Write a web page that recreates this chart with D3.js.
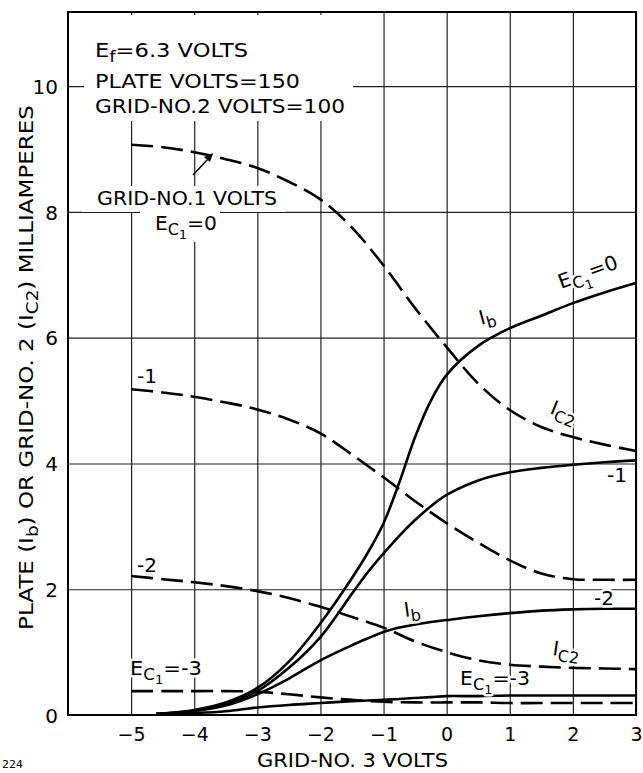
<!DOCTYPE html>
<html><head><meta charset="utf-8">
<script src="https://cdn.jsdelivr.net/npm/d3@7"></script>
<style>
body{margin:0;background:#fff}
text{font-family:"DejaVu Sans",sans-serif;fill:#000}
</style>
</head><body>
<svg id="c" width="643" height="773"></svg>
<script>
// ---- data ----
const xTicks = [-5,-4,-3,-2,-1,0,1,2,3];
const yTicks = [0,2,4,6,8,10];
const yGrid = [2,4,6,8,10];

// Plate current Ib vs grid-3 volts (solid)
const xIb = [-4.6,-4.3,-4,-3.5,-3,-2.5,-2,-1.5,-1.25,-1,-0.75,-0.5,-0.25,0,0.5,1,1.5,2,2.5,3];
const ibEc0  = [0.02,0.04,0.08,0.2,0.43,0.85,1.46,2.18,2.58,3.05,3.7,4.42,5.0,5.41,5.87,6.15,6.35,6.55,6.72,6.87];
const ibEc1  = [0.02,0.04,0.07,0.18,0.38,0.75,1.24,1.93,2.27,2.57,2.85,3.1,3.32,3.5,3.73,3.86,3.93,3.98,4.02,4.05];
const ibEc2  = [0.02,0.03,0.06,0.15,0.33,0.58,0.87,1.11,1.22,1.32,1.39,1.44,1.48,1.51,1.57,1.62,1.66,1.68,1.69,1.69];
const ibEc3  = [0.01,0.02,0.03,0.06,0.12,0.16,0.19,0.22,0.23,0.24,0.255,0.27,0.285,0.3,0.3,0.31,0.31,0.31,0.31,0.31];

// Grid-2 current Ic2 (dashed)
const xIc2 = [-5,-4.5,-4,-3.5,-3,-2.5,-2,-1.5,-1,-0.5,0,0.5,1,1.5,2,2.5,3];
const ic2Ec0 = [9.07,9.03,8.95,8.84,8.7,8.48,8.2,7.75,7.15,6.47,5.85,5.27,4.85,4.58,4.42,4.3,4.2];
const ic2Ec1 = [5.18,5.13,5.06,4.97,4.86,4.7,4.48,4.14,3.78,3.4,3.05,2.74,2.46,2.25,2.16,2.15,2.15];
const ic2Ec2 = [2.21,2.16,2.11,2.05,1.97,1.86,1.72,1.56,1.39,1.17,1.0,0.87,0.8,0.77,0.75,0.74,0.73];
const ic2Ec3 = [0.38,0.38,0.38,0.38,0.37,0.33,0.28,0.24,0.21,0.2,0.2,0.2,0.19,0.19,0.19,0.19,0.19];

// ---- chart ----
const svg = d3.select("#c");
const L = 68, R = 636, T = 12, B = 715;
const x = d3.scaleLinear().domain([-6,3]).range([L,R]);
const y = d3.scaleLinear().domain([0,11.18]).range([B,T]);

// grid
const g = svg.append("g");
g.append("g").attr("transform",`translate(0,${B})`)
  .call(d3.axisBottom(x).tickValues(xTicks).tickSize(-(B-T)).tickFormat(""))
  .call(s=>s.select(".domain").remove())
  .call(s=>s.selectAll("line").attr("stroke","#222").attr("stroke-width",1.2));
g.append("g").attr("transform",`translate(${L},0)`)
  .call(d3.axisLeft(y).tickValues(yGrid).tickSize(-(R-L)).tickFormat(""))
  .call(s=>s.select(".domain").remove())
  .call(s=>s.selectAll("line").attr("stroke","#222").attr("stroke-width",1.2));

// masks behind lettering
const masks = [[84,15,269,106],[82,186,203,26],[140,212,80,30]];
masks.forEach(m=>svg.append("rect").attr("x",m[0]).attr("y",m[1]).attr("width",m[2]).attr("height",m[3]).attr("fill","#fff"));

// frame
svg.append("rect").attr("x",L).attr("y",T).attr("width",R-L).attr("height",B-T)
  .attr("fill","none").attr("stroke","#000").attr("stroke-width",2);

// tick labels
svg.append("g").attr("transform",`translate(${L-7},0)`)
  .call(d3.axisLeft(y).tickValues(yTicks).tickSize(0).tickFormat(d3.format("d")))
  .call(s=>s.select(".domain").remove())
  .call(s=>s.selectAll("text").attr("font-size",20).attr("font-family","DejaVu Sans").attr("dy","0.36em"));
svg.append("g").attr("transform",`translate(0,${B})`)
  .call(d3.axisBottom(x).tickValues(xTicks).tickSize(0).tickPadding(8).tickFormat(d=>d<0?"\u2212"+Math.abs(d):""+d))
  .call(s=>s.select(".domain").remove())
  .call(s=>s.selectAll("text").attr("font-size",19).attr("font-family","DejaVu Sans").attr("dy","0.95em"));

// curves
const line = d3.line().x(d=>x(d[0])).y(d=>y(d[1])).curve(d3.curveCatmullRom.alpha(0.5));
const zip = (xs,ys)=>xs.map((v,i)=>[v,ys[i]]);
[ibEc0,ibEc1,ibEc2,ibEc3].forEach(s=>{
  svg.append("path").attr("d",line(zip(xIb,s))).attr("fill","none")
    .attr("stroke","#000").attr("stroke-width",2.6);
});
[ic2Ec0,ic2Ec1,ic2Ec2,ic2Ec3].forEach(s=>{
  svg.append("path").attr("d",line(zip(xIc2,s))).attr("fill","none")
    .attr("stroke","#000").attr("stroke-width",2.6).attr("stroke-dasharray","22,8");
});

// arrow
svg.append("line").attr("x1",193).attr("y1",175).attr("x2",209).attr("y2",158)
  .attr("stroke","#000").attr("stroke-width",1.5);
svg.append("path").attr("d","M213,153 L204,157 L210,162 Z").attr("fill","#000");

// text helper: parts = [[text, level]] level 0 normal, 1 subscript, 2 sub-sub
function label(px,py,parts,opt={}){
  const fs = opt.fs||20;
  const t = svg.append("text").attr("font-size",fs)
    .attr("transform",`translate(${px},${py}) rotate(${opt.rot||0})`);
  if(opt.halo) t.attr("stroke","#fff").attr("stroke-width",5).attr("paint-order","stroke").attr("stroke-linejoin","round");
  if(opt.len) t.attr("textLength",opt.len).attr("lengthAdjust","spacingAndGlyphs");
  if(opt.anchor) t.attr("text-anchor",opt.anchor);
  const off=[0,5,9], sz=[1,0.8,0.62];
  let cur=0;
  parts.forEach(p=>{
    const lv=p[1]||0;
    t.append("tspan").attr("dy",off[lv]*fs/19-cur).attr("font-size",fs*sz[lv]).text(p[0]);
    cur=off[lv]*fs/19;
  });
  return t;
}

// header block
label(95,57,[["E"],["f",1],["=6.3 VOLTS"]],{len:153});
label(95,88,[["PLATE VOLTS=150"]],{len:205});
label(95,113,[["GRID-NO.2 VOLTS=100"]],{len:250});
label(97,205,[["GRID-NO.1 VOLTS"]],{len:180});
label(155,230,[["E"],["C",1],["1",2],["=0"]],{len:62});

// left curve labels
label(137,383,[["-1"]],{halo:true});
label(137,572,[["-2"]],{halo:true});
label(130,675,[["E"],["C",1],["1",2],["=-3"]],{len:72,halo:true});

// right curve labels
label(561,289,[["E"],["C",1],["1",2],["=0"]],{len:62,rot:-20,halo:true});
label(481,325,[["I"],["b",1]],{rot:-15,halo:true});
label(549,413,[["I"],["C",1],["2",1]],{rot:22,halo:true});
label(607,482,[["-1"]],{halo:true});
label(594,605,[["-2"]],{halo:true});
label(405,617,[["I"],["b",1]],{rot:-8,halo:true});
label(552,655,[["I"],["C",1],["2",1]],{rot:8,halo:true});
label(460,685,[["E"],["C",1],["1",2],["=-3"]],{len:70,halo:true});

// axis titles
label(257,767,[["GRID-NO. 3 VOLTS"]],{len:191});
label(33,630,[["PLATE ("],["I"],["b",1],[") OR GRID-NO. 2 ("],["I"],["C",1],["2",1],[") MILLIAMPERES"]],{rot:-90,len:525});
label(2,768,[["224"]],{fs:11});
</script>
</body></html>
